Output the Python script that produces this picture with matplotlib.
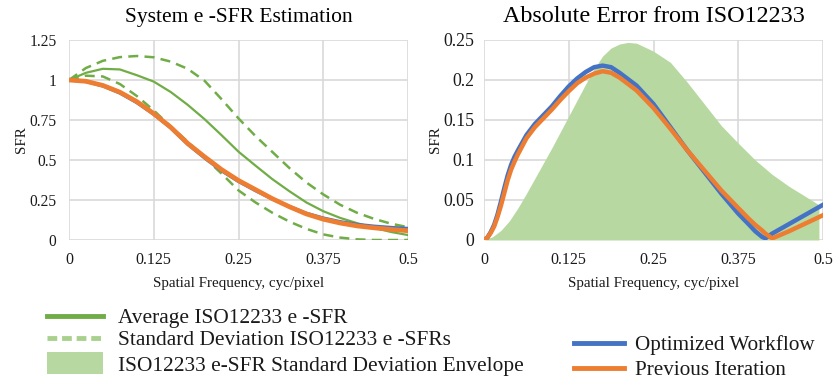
import matplotlib
matplotlib.use("Agg")
import matplotlib.pyplot as plt
from matplotlib.lines import Line2D
from matplotlib.patches import Patch

plt.rcParams['font.family'] = ['Liberation Serif', 'DejaVu Serif']

# ---------------- Left chart data ----------------
x_left = [0, 0.025, 0.05, 0.075, 0.1, 0.125, 0.15, 0.175, 0.2, 0.225, 0.25,
          0.275, 0.3, 0.325, 0.35, 0.375, 0.4, 0.425, 0.45, 0.475, 0.5]
avg_sfr = [1.0, 1.045, 1.07, 1.066, 1.03, 0.99, 0.925, 0.845, 0.755, 0.655, 0.552,
           0.465, 0.38, 0.305, 0.235, 0.18, 0.138, 0.105, 0.076, 0.05, 0.031]
std_upper = [1.0, 1.075, 1.12, 1.143, 1.15, 1.142, 1.115, 1.07, 0.995, 0.88, 0.76,
             0.65, 0.55, 0.45, 0.36, 0.285, 0.22, 0.17, 0.132, 0.102, 0.08]
std_lower = [1.0, 1.027, 1.022, 0.975, 0.9, 0.81, 0.71, 0.615, 0.515, 0.415, 0.31,
             0.235, 0.17, 0.115, 0.07, 0.035, 0.015, 0.004, 0.0, 0.0, 0.0]
opt_left = [1.0, 0.99, 0.962, 0.918, 0.858, 0.785, 0.7, 0.598, 0.512, 0.432, 0.365,
            0.308, 0.255, 0.21, 0.168, 0.138, 0.115, 0.098, 0.087, 0.079, 0.073]
prev_left = [1.0, 0.992, 0.966, 0.924, 0.865, 0.79, 0.705, 0.604, 0.52, 0.44, 0.372,
             0.315, 0.258, 0.208, 0.163, 0.13, 0.106, 0.088, 0.076, 0.066, 0.058]

# ---------------- Right chart data ----------------
x_env = [0, 0.0125, 0.025, 0.0375, 0.05, 0.0625, 0.075, 0.1, 0.125, 0.15, 0.1625,
         0.175, 0.1875, 0.2, 0.2125, 0.225, 0.25, 0.275, 0.3, 0.325, 0.35, 0.375,
         0.4, 0.425, 0.45, 0.475, 0.494]
env_err = [0, 0.004, 0.012, 0.024, 0.04, 0.058, 0.077, 0.115, 0.155, 0.195, 0.214,
           0.23, 0.24, 0.245, 0.247, 0.246, 0.236, 0.222, 0.197, 0.17, 0.143, 0.121,
           0.1, 0.082, 0.067, 0.054, 0.044]

x_err = [0, 0.005, 0.01, 0.015, 0.02, 0.025, 0.03, 0.035, 0.04, 0.045, 0.05, 0.0625,
         0.075, 0.0875, 0.1, 0.1125, 0.125, 0.1375, 0.15, 0.1625, 0.175, 0.1875, 0.2,
         0.225, 0.25, 0.275, 0.3, 0.325, 0.35, 0.375, 0.39, 0.4, 0.41, 0.415, 0.425,
         0.45, 0.475, 0.5]
opt_err = [0, 0.003, 0.01, 0.019, 0.032, 0.048, 0.065, 0.081, 0.094, 0.104, 0.112,
           0.131, 0.145, 0.156, 0.167, 0.18, 0.192, 0.202, 0.21, 0.216, 0.218, 0.216,
           0.209, 0.193, 0.17, 0.141, 0.112, 0.085, 0.058, 0.033, 0.02, 0.011, 0.004,
           0.002, 0.008, 0.02, 0.032, 0.044]
prev_err = [0, 0.003, 0.009, 0.017, 0.029, 0.043, 0.059, 0.075, 0.088, 0.098, 0.107,
            0.127, 0.141, 0.152, 0.163, 0.175, 0.186, 0.196, 0.203, 0.208, 0.211, 0.209,
            0.203, 0.187, 0.165, 0.139, 0.112, 0.087, 0.062, 0.04, 0.027, 0.019, 0.012,
            0.008, 0.002, 0.011, 0.021, 0.031]

x_ticks = [0, 0.125, 0.25, 0.375, 0.5]
x_ticklabels = ["0", "0.125", "0.25", "0.375", "0.5"]
yl_ticks = [0, 0.25, 0.5, 0.75, 1.0, 1.25]
yl_ticklabels = ["0", "0.25", "0.5", "0.75", "1", "1.25"]
yr_ticks = [0, 0.05, 0.1, 0.15, 0.2, 0.25]
yr_ticklabels = ["0", "0.05", "0.1", "0.15", "0.2", "0.25"]

legend_left_labels = ["Average ISO12233 e -SFR", "Standard Deviation ISO12233 e -SFRs",
                      "ISO12233 e-SFR Standard Deviation Envelope"]
legend_right_labels = ["Optimized Workflow", "Previous Iteration"]

GREEN = '#70AD47'
LIGHT_GREEN = '#A9D18E'
FILL = '#B8D8A2'
BLUE = '#4472C4'
ORANGE = '#ED7D31'
GRID = '#D9D9D9'
TXT = '#1a1a1a'

W, H = 835, 381
fig = plt.figure(figsize=(W / 100, H / 100), dpi=100)
axL = fig.add_axes([69/W, 141/H, (408-69)/W, 200/H])
axR = fig.add_axes([484/W, 141/H, (823-484)/W, 200/H])


def style(ax, yticks, ylabels, ylim, title, title_size, ytick_size, ypad):
    ax.set_xlim(0, 0.5)
    ax.set_ylim(*ylim)
    ax.set_xticks(x_ticks)
    ax.set_xticklabels(x_ticklabels)
    ax.set_yticks(yticks)
    ax.set_yticklabels(ylabels)
    for s in ax.spines.values():
        s.set_visible(False)
    ax.grid(True, color=GRID, lw=1.2)
    ax.set_axisbelow(True)
    ax.tick_params(length=0, colors=TXT)
    ax.tick_params(axis='x', labelsize=11.5, pad=9)
    ax.tick_params(axis='y', labelsize=ytick_size, pad=ypad)
    ax.set_xlabel("Spatial Frequency, cyc/pixel", fontsize=10.8, color=TXT, labelpad=6)
    ax.set_ylabel("SFR", fontsize=10.8, color=TXT, labelpad=1)
    ax.set_title(title, fontsize=title_size, color='black', pad=13)


style(axL, yl_ticks, yl_ticklabels, (0, 1.25), "System e -SFR Estimation", 15.5, 11.2, 9)
axL.plot(x_left, avg_sfr, color=GREEN, lw=1.6, solid_capstyle='round')
axL.plot(x_left, std_upper, color=GREEN, lw=1.8, ls=(0, (4, 2.5)))
axL.plot(x_left, std_lower, color=GREEN, lw=1.8, ls=(0, (4, 2.5)))
axL.plot(x_left, opt_left, color=BLUE, lw=2.2)
axL.plot(x_left, prev_left, color=ORANGE, lw=3.4)

style(axR, yr_ticks, yr_ticklabels, (0, 0.25), "Absolute Error from ISO12233", 17.4, 12.8, 7)
axR.fill_between(x_env, env_err, 0, color=FILL, lw=0)
axR.plot(x_err, opt_err, color=BLUE, lw=3.2)
axR.plot(x_err, prev_err, color=ORANGE, lw=3.2)


def add_entry(handle, label, x_px, y_px, hlen, hpad, hheight=0.7, fs=15.4):
    leg = fig.legend([handle], [label], loc='center left',
                     bbox_to_anchor=(x_px / W, 1 - y_px / H), frameon=False,
                     fontsize=fs, handlelength=hlen, handleheight=hheight,
                     handletextpad=hpad, borderaxespad=0, borderpad=0)
    for t in leg.get_texts():
        t.set_color(TXT)
    return leg


left_handles = [Line2D([], [], color=GREEN, lw=3.5),
                Line2D([], [], color=LIGHT_GREEN, lw=3.5, ls=(0, (2, 1))),
                Patch(facecolor=FILL, edgecolor='none')]
left_rows = [318, 340, 364]
for i, (h, lab, y) in enumerate(zip(left_handles, legend_left_labels, left_rows)):
    add_entry(h, lab, 47, y, 2.62, 0.7, hheight=1.18 if i == 2 else 0.7)

right_handles = [Line2D([], [], color=BLUE, lw=3.5), Line2D([], [], color=ORANGE, lw=3.5)]
right_rows = [345, 370]
for h, lab, y in zip(right_handles, legend_right_labels, right_rows):
    add_entry(h, lab, 574, y, 2.35, 0.55, fs=15.2)

fig.savefig("out.png", dpi=100)
